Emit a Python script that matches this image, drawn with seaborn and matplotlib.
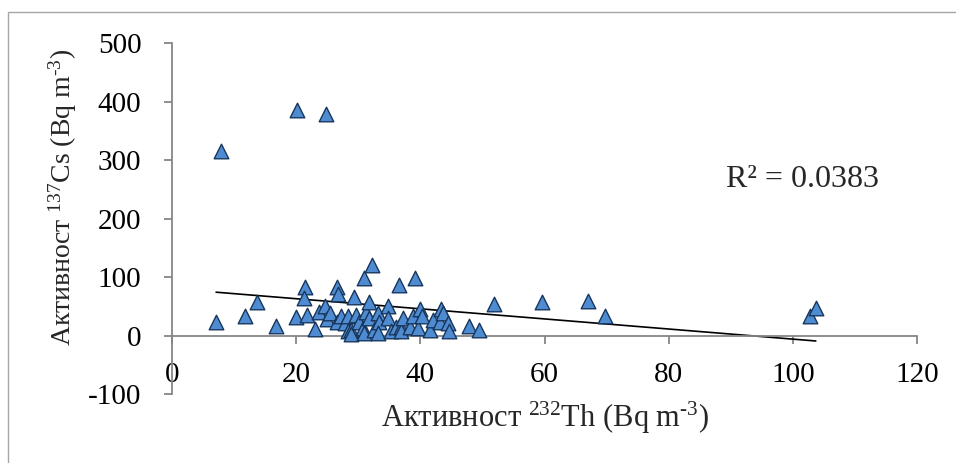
import numpy as np
import pandas as pd
import matplotlib
matplotlib.use("Agg")
import matplotlib.pyplot as plt
from matplotlib.patches import Rectangle
import seaborn as sns

# Activity values (Bq m-3)
th232 = [7.1, 7.9, 11.8, 13.7, 16.7, 19.9, 20.2, 21.5, 21.2, 21.7,
         23.1, 23.7, 24.6, 24.8, 25.0, 25.4, 26.5, 26.7, 26.5, 27.3,
         27.8, 28.3, 28.3, 28.9, 28.9, 29.3, 29.7, 30.2, 30.8, 31.0,
         31.0, 31.3, 31.7, 31.8, 32.2, 32.6, 33.2, 33.4, 33.2, 34.8,
         34.8, 35.3, 36.1, 36.5, 36.9, 36.9, 37.2, 38.3, 38.8, 39.1,
         39.6, 40.0, 40.2, 41.5, 42.0, 43.1, 43.4, 43.6, 44.4, 44.6,
         47.9, 49.4, 51.9, 59.6, 67.0, 69.7, 102.7, 103.7]
cs137 = [24, 316, 34, 57, 17, 32, 386, 83, 65, 35,
         12, 41, 50, 379, 28, 38, 84, 72, 24, 33,
         21, 7, 33, 10, 2, 66, 35, 24, 13, 4,
         98, 41, 58, 30, 120, 10, 38, 24, 4, 51,
         30, 7, 15, 87, 15, 7, 30, 15, 33, 98,
         13, 45, 34, 10, 27, 24, 45, 38, 21, 7,
         17, 9, 54, 57, 60, 34, 34, 47]

x_ticks = [0, 20, 40, 60, 80, 100, 120]
y_ticks = [-100, 0, 100, 200, 300, 400, 500]
r2_label = "R² = 0.0383"

df = pd.DataFrame({"th": th232, "cs": cs137})

sns.set_theme(style="white")
plt.rcParams["font.family"] = ["Liberation Serif", "DejaVu Serif"]
plt.rcParams["mathtext.fontset"] = "custom"
plt.rcParams["mathtext.rm"] = "Liberation Serif"
plt.rcParams["mathtext.it"] = "Liberation Serif"
plt.rcParams["mathtext.default"] = "regular"
plt.rcParams["axes.unicode_minus"] = False

W, H = 956, 463
fig = plt.figure(figsize=(W / 100, H / 100), dpi=100)
ax = fig.add_axes([172 / W, 1 - 394 / H, (917 - 172) / W, (394 - 43.5) / H])

axis_gray = "#868686"

sns.regplot(data=df, x="th", y="cs", ax=ax, scatter=False, ci=None,
            line_kws={"color": "black", "lw": 1.2})
sns.scatterplot(data=df, x="th", y="cs", ax=ax, marker="^", s=110,
                color="#4f8bd0", edgecolor="#17365d", linewidth=1.0,
                zorder=3, legend=False)

ax.set_xlim(0, 120)
ax.set_ylim(-100, 500)
ax.set_xticks(x_ticks)
ax.set_yticks(y_ticks)
ax.set_xlabel("")
ax.set_ylabel("")

ax.spines["top"].set_visible(False)
ax.spines["right"].set_visible(False)
ax.spines["bottom"].set_position(("data", 0))
for s in ("left", "bottom"):
    ax.spines[s].set_color(axis_gray)
    ax.spines[s].set_linewidth(1.3)

ax.tick_params(axis="both", which="major", direction="out", length=6,
               width=1.3, color=axis_gray, labelsize=21, labelcolor="black")
ax.tick_params(axis="x", bottom=True, pad=13)
ax.tick_params(axis="y", left=True, pad=16)

ax.text(89.3, 267, r2_label, fontsize=23, va="center", ha="left")

fig.text(63 / W, 1 - 197 / H, "Активност $^{137}$Cs (Bq m$^{\u2010 3}$)",
         rotation=90, fontsize=20, ha="center", va="center")
fig.text(545 / W, 1 - 418 / H, "Активност $^{232}$Th (Bq m$^{\u2010 3}$)",
         fontsize=22, ha="center", va="center")

# outer chart-area border
fig.patches.append(Rectangle((8 / W, -0.05), 1.1, 1 - 12 / H + 0.05,
                             transform=fig.transFigure, fill=False,
                             edgecolor="#a6a6a6", linewidth=1.0))

fig.savefig("out.png", dpi=100)
